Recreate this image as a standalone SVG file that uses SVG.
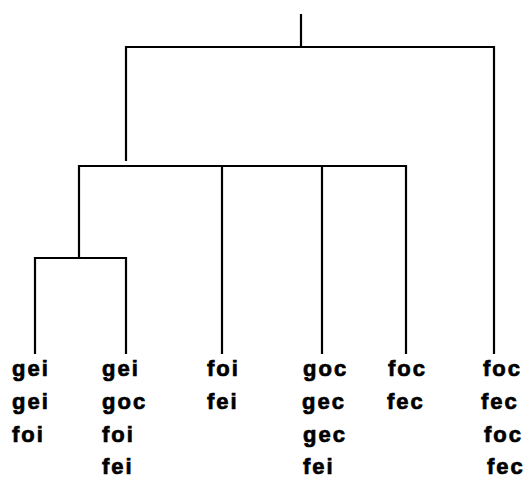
<svg xmlns="http://www.w3.org/2000/svg" width="527" height="479" viewBox="0 0 527 479">
<style>
.ln{stroke:#000;stroke-width:2.2;fill:none;stroke-linecap:square}
.lb{font-family:"Liberation Sans",Arial,sans-serif;font-weight:bold;font-size:22px;letter-spacing:2px;fill:#000;stroke:#000;stroke-width:0.7}
</style>
<rect width="527" height="479" fill="#fff"/>
<g id="connectors">
<path class="ln" d="M301,15V47M126,47H494M126,47V160M494,47V353"/>
<path class="ln" d="M79,166H406M79,166V258M222,166V353M322,166V353M406,166V353"/>
<path class="ln" d="M35,258H126M35,258V353M126,258V353"/>
</g>
<g id="leaf1"><text class="lb" x="12" y="376">gei</text><text class="lb" x="12" y="409">gei</text><text class="lb" x="12" y="442">foi</text></g>
<g id="leaf2"><text class="lb" x="102" y="376">gei</text><text class="lb" x="102" y="409">goc</text><text class="lb" x="102" y="442">foi</text><text class="lb" x="102" y="474">fei</text></g>
<g id="leaf3"><text class="lb" x="207" y="376">foi</text><text class="lb" x="207" y="409">fei</text></g>
<g id="leaf4"><text class="lb" x="303" y="376">goc</text><text class="lb" x="302" y="409">gec</text><text class="lb" x="303" y="442">gec</text><text class="lb" x="303" y="474">fei</text></g>
<g id="leaf5"><text class="lb" x="388" y="376">foc</text><text class="lb" x="387" y="409">fec</text></g>
<g id="leaf6"><text class="lb" x="483" y="376">foc</text><text class="lb" x="481" y="409">fec</text><text class="lb" x="484" y="442">foc</text><text class="lb" x="487" y="474">fec</text></g>
</svg>
